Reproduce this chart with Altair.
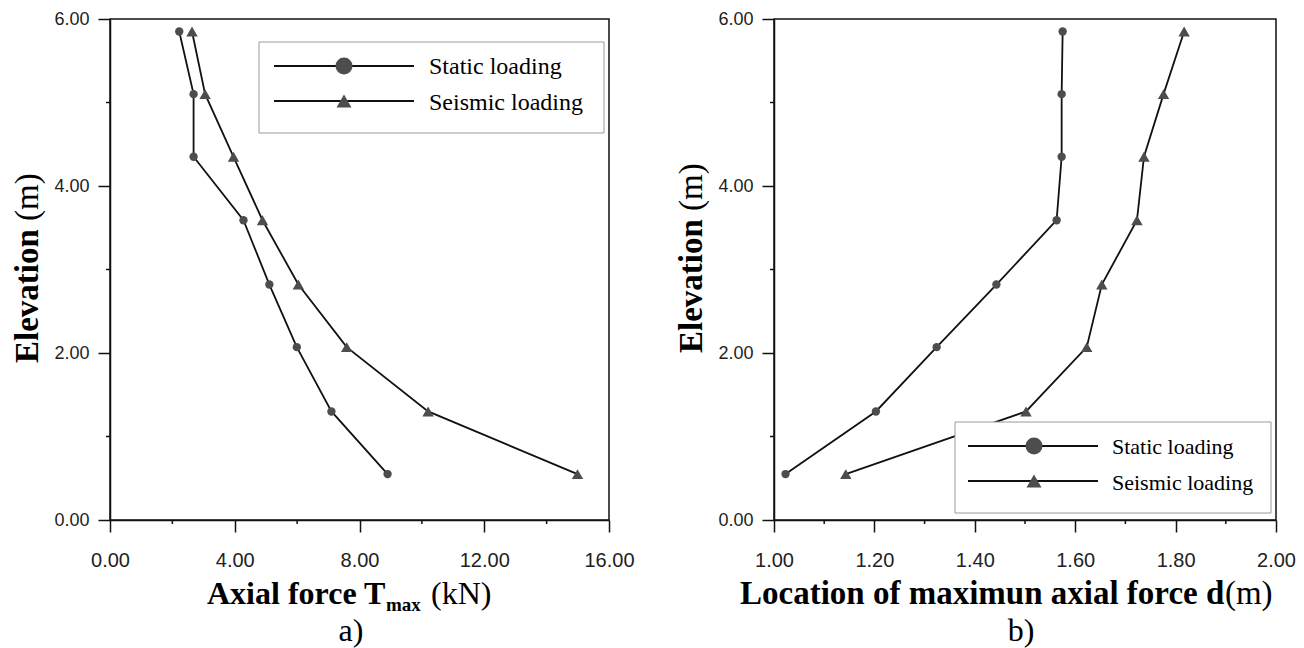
import altair as alt
import pandas as pd

# ---------------- data ----------------
elevation = [5.85, 5.10, 4.35, 3.59, 2.82, 2.07, 1.30, 0.55]
static_T = [2.22, 2.68, 2.68, 4.28, 5.11, 5.99, 7.10, 8.90]
seismic_T = [2.63, 3.05, 3.96, 4.89, 6.04, 7.59, 10.20, 14.99]
static_d = [1.575, 1.573, 1.573, 1.563, 1.443, 1.324, 1.203, 1.023]
seismic_d = [1.817, 1.776, 1.737, 1.723, 1.653, 1.623, 1.502, 1.143]

series_names = ["Static loading", "Seismic loading"]
y_major = [0, 2, 4, 6]
y_minor = [1, 3, 5]
xa_major = [0, 4, 8, 12, 16]
xa_minor = [2, 6, 10, 14]
xb_major = [1.0, 1.2, 1.4, 1.6, 1.8, 2.0]
xb_minor = [1.1, 1.3, 1.5, 1.7, 1.9]
xa_title = ["Axial force T", "max", "(kN)"]
xb_title = ["Location of maximun axial force d", "(m)"]
y_title = ["Elevation", "(m)"]
panel_labels = ["a)", "b)"]

LINE = "#111111"
MARK = "#4d4d4d"
SERIF = "Liberation Serif"
SANS = "Liberation Sans"
H = 501


def one(text):
    return pd.DataFrame({"label": [text]})


def txt(text, x, y, size, bold=False, angle=0, align="left"):
    kw = dict(font=SERIF, fontSize=size, fontWeight="bold" if bold else "normal",
              align=align, baseline="alphabetic", color="#000000")
    if angle:
        kw["angle"] = angle
    return alt.Chart(one(text)).mark_text(**kw).encode(
        x=alt.value(x), y=alt.value(y), text="label:N")


def panel(xs_static, xs_seismic, domain, width, xmajor, xminor,
          legend_box, legend_lines, legend_sym_x, legend_text_x, legend_rows,
          legend_font, title_parts, ytitle_x, ytitle_y, plabel, plabel_x, anchor=False):
    rows = []
    for i, e in enumerate(elevation):
        rows.append({"x": xs_static[i], "elev": e, "series": series_names[0], "idx": i})
        rows.append({"x": xs_seismic[i], "elev": e, "series": series_names[1], "idx": i})
    df = pd.DataFrame(rows)

    xscale = alt.Scale(domain=domain, nice=False, zero=False)
    yscale = alt.Scale(domain=[0, 6], nice=False, zero=False)

    xaxis = alt.Axis(values=xmajor, grid=False, title=None, labelFlush=False, labelOverlap=False,
                     format=".2f", tickSize=12, labelPadding=18, labelFontSize=20)
    yaxis = alt.Axis(values=y_major, grid=False, title=None, labelFlush=False, labelOverlap=False,
                     format=".2f", tickSize=12, labelPadding=9, labelFontSize=18)

    X = alt.X("x:Q", scale=xscale, axis=xaxis)
    Y = alt.Y("elev:Q", scale=yscale, axis=yaxis)

    base = alt.Chart(df)
    lines = base.mark_line(color=LINE, strokeWidth=1.8).encode(
        x=X, y=Y, detail="series:N", order="idx:Q")
    pts_c = base.transform_filter(alt.datum.series == series_names[0]).mark_point(
        shape="circle", filled=True, size=70, color=MARK, opacity=1).encode(x=X, y=Y)
    pts_t = base.transform_filter(alt.datum.series == series_names[1]).mark_point(
        shape="triangle-up", filled=True, size=130, color=MARK, opacity=1).encode(x=X, y=Y)

    # minor ticks (outside, short)
    minx = alt.Chart(pd.DataFrame({"x": xminor})).mark_rule(color=LINE, strokeWidth=1.5).encode(
        x=X, y=alt.value(H), y2=alt.value(H + 4))
    miny = alt.Chart(pd.DataFrame({"elev": y_minor})).mark_rule(color=LINE, strokeWidth=1.5).encode(
        y=Y, x=alt.value(-4), x2=alt.value(0))

    layers = [lines, pts_c, pts_t, minx, miny]

    # legend (drawn over the data)
    bx1, bx2, by1, by2 = legend_box
    layers.append(alt.Chart(one("box")).mark_rect(fill="white", stroke="#9a9a9a", strokeWidth=1).encode(
        x=alt.value(bx1), x2=alt.value(bx2), y=alt.value(by1), y2=alt.value(by2)))
    lx1, lx2 = legend_lines
    shapes = [("circle", 289), ("triangle-up", 225)]
    for (ly, tb), name, (shp, sz) in zip(legend_rows, series_names, shapes):
        layers.append(alt.Chart(one(name)).mark_rule(color=LINE, strokeWidth=2).encode(
            x=alt.value(lx1), x2=alt.value(lx2), y=alt.value(ly)))
        layers.append(alt.Chart(one(name)).mark_point(
            shape=shp, filled=True, size=sz, color=MARK, opacity=1).encode(
            x=alt.value(legend_sym_x), y=alt.value(ly)))
        layers.append(txt(name, legend_text_x, tb, legend_font))

    # axis titles
    for (t, x, y, size, bold) in title_parts:
        layers.append(txt(t, x, y, size, bold))
    yb, ym = ytitle_y
    layers.append(txt(y_title[0], ytitle_x, yb, 33, True, angle=270))
    layers.append(txt(y_title[1], ytitle_x, ym, 33, False, angle=270))
    layers.append(txt(plabel, plabel_x, 622, 32, False, align="center"))

    if anchor:
        layers.append(alt.Chart(one("anchor")).mark_rule(strokeOpacity=0, strokeWidth=0.01).encode(
            x=alt.value(-109), x2=alt.value(-108.5), y=alt.value(-18)))

    return alt.layer(*layers).properties(width=width, height=H)


left = panel(
    static_T, seismic_T, [0, 16], 499, xa_major, xa_minor,
    legend_box=(149, 494, 23, 114), legend_lines=(164, 304), legend_sym_x=234,
    legend_text_x=319, legend_rows=[(47, 55), (82, 91)], legend_font=24,
    title_parts=[(xa_title[0], 97, 585, 32, True),
                 (xa_title[1], 276, 592, 19, True),
                 (xa_title[2], 321, 585, 32, False)],
    ytitle_x=-72, ytitle_y=(344, 344 - 4.306 * 33),
    plabel=panel_labels[0], plabel_x=241, anchor=True,
)

right = panel(
    static_d, seismic_d, [1, 2], 502, xb_major, xb_minor,
    legend_box=(181, 497, 403, 494), legend_lines=(194, 324), legend_sym_x=260,
    legend_text_x=338, legend_rows=[(427, 435), (462, 471)], legend_font=22,
    title_parts=[(xb_title[0], -34, 585, 33, True),
                 (xb_title[1], -34 + 14.694 * 33, 585, 33, False)],
    ytitle_x=-72, ytitle_y=(334, 334 - 4.306 * 33),
    plabel=panel_labels[1], plabel_x=247,
)

chart = alt.hconcat(left, right, spacing=165, bounds="flush").properties(
    padding=0, background="white"
).configure_view(
    stroke=LINE, strokeWidth=1.5
).configure_axis(
    domainColor=LINE, domainWidth=1.5, tickColor=LINE, tickWidth=1.5,
    labelFont=SANS, labelColor="#222222",
)

chart.save("out.html", embed_options={"renderer": "svg", "actions": False})
